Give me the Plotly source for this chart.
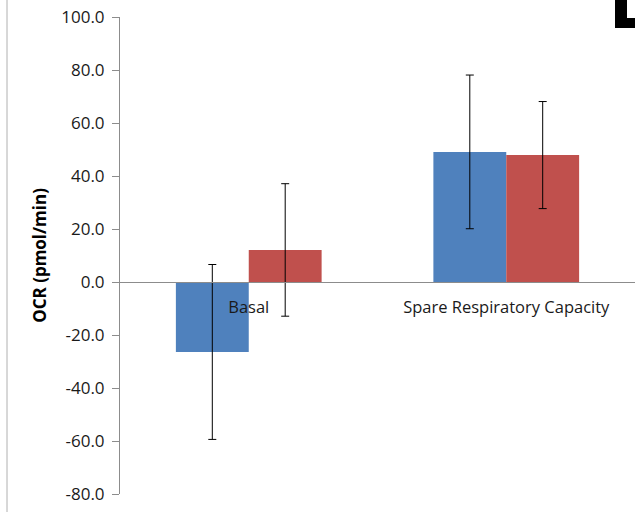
import plotly.graph_objects as go

categories = ["Basal", "Spare Respiratory Capacity"]
series1_values = [-26.4, 49.1]
series1_errors = [33.0, 29.0]
series2_values = [12.1, 47.9]
series2_errors = [25.0, 20.2]
tick_values = [-80, -60, -40, -20, 0, 20, 40, 60, 80, 100]
tick_labels = ["-80.0", "-60.0", "-40.0", "-20.0", "0.0", "20.0", "40.0", "60.0", "80.0", "100.0"]

FONT = "Open Sans"

fig = go.Figure()
fig.add_trace(go.Bar(
    x=categories, y=series1_values, name="Series 1",
    marker=dict(color="#4F81BD", line=dict(width=0)),
    error_y=dict(type="data", array=series1_errors, visible=True,
                 color="#000000", thickness=1, width=4),
))
fig.add_trace(go.Bar(
    x=categories, y=series2_values, name="Series 2",
    marker=dict(color="#C0504D", line=dict(width=0)),
    error_y=dict(type="data", array=series2_errors, visible=True,
                 color="#000000", thickness=1, width=4),
))

fig.update_layout(
    width=635, height=512,
    margin=dict(l=120, r=0, t=17, b=18),
    paper_bgcolor="white", plot_bgcolor="white",
    barmode="group", bargap=0.434, bargroupgap=0,
    showlegend=False,
    font=dict(family=FONT, size=16, color="#1a1a1a"),
    xaxis=dict(
        anchor="free", position=80 / 180,
        showline=True, linecolor="#8c8c8c", linewidth=1,
        ticks="", showgrid=False, zeroline=False,
        tickfont=dict(family=FONT, size=16.5, color="#1a1a1a"),
        ticklabelstandoff=10,
    ),
    yaxis=dict(
        range=[-80, 100], tickvals=tick_values, ticktext=tick_labels,
        showline=True, linecolor="#8c8c8c", linewidth=1,
        ticks="outside", ticklen=7, tickcolor="#8c8c8c",
        showgrid=False, zeroline=False,
        tickfont=dict(family=FONT, size=17, color="#1a1a1a"),
        ticklabelstandoff=4,
        title=dict(text="<b>OCR (pmol/min)</b>", font=dict(family=FONT, size=17, color="#000000"),
                   standoff=10),
    ),
)

# decorations from neighbouring panels
fig.add_shape(type="line", xref="paper", yref="paper",
              x0=(7 - 120) / 515, x1=(7 - 120) / 515, y0=1 + 17 / 477, y1=-18 / 477,
              line=dict(color="#b0b0b0", width=1))
fig.add_shape(type="rect", xref="paper", yref="paper",
              x0=(615 - 120) / 515, x1=(627 - 120) / 515, y0=1 + 17 / 477, y1=1 - 11 / 477,
              fillcolor="black", line=dict(width=0))
fig.add_shape(type="rect", xref="paper", yref="paper",
              x0=(615 - 120) / 515, x1=(635 - 120) / 515, y0=1 - 1 / 477, y1=1 - 11 / 477,
              fillcolor="black", line=dict(width=0))

fig.write_html("out.html")
